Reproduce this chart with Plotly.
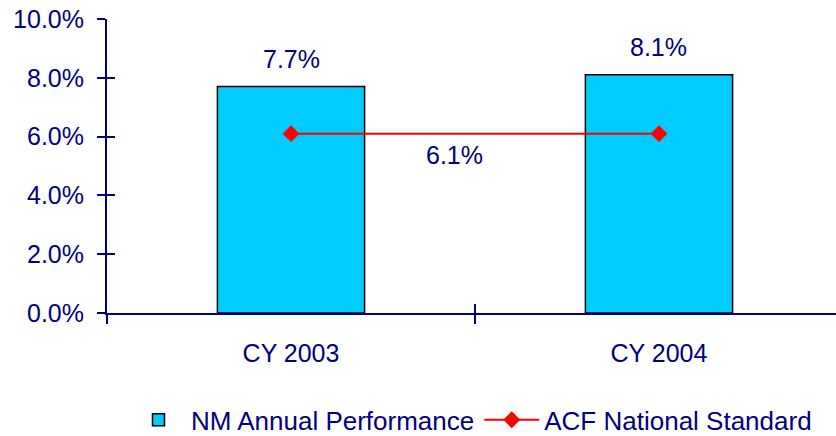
import plotly.graph_objects as go

categories = ["CY 2003", "CY 2004"]
nm_performance = [7.7, 8.1]
acf_standard = [6.1, 6.1]
y_tick_values = [0, 2, 4, 6, 8, 10]
y_tick_labels = ["0.0%", "2.0%", "4.0%", "6.0%", "8.0%", "10.0%"]

NAVY = "#000080"
FONT = "Liberation Sans, Arial, sans-serif"
FS = 25

fig = go.Figure()
fig.add_trace(go.Bar(
    x=categories, y=nm_performance, name="NM Annual Performance",
    width=0.4, marker=dict(color="#00CCFF", line=dict(color="black", width=1.5)),
    hoverinfo="skip",
))
fig.add_trace(go.Scatter(
    x=categories, y=acf_standard, name="ACF National Standard",
    mode="lines+markers", line=dict(color="#FF0000", width=2),
    marker=dict(symbol="diamond", size=13, color="#FF0000"),
    hoverinfo="skip",
))
# invisible helper trace for the overlay axes (inside half of crossing ticks)
fig.add_trace(go.Scatter(
    x=categories, y=nm_performance, xaxis="x2", yaxis="y2",
    mode="markers", marker=dict(opacity=0), showlegend=False, hoverinfo="skip",
))

for c, v in zip(categories, nm_performance):
    fig.add_annotation(x=c, y=v, text=f"{v:.1f}%", showarrow=False,
                       yanchor="bottom", yshift=12,
                       font=dict(family=FONT, size=FS, color=NAVY))
fig.add_annotation(x=0.5, y=acf_standard[0], text=f"{acf_standard[0]:.1f}%",
                   showarrow=False, yanchor="top", yshift=-5, xshift=-21,
                   font=dict(family=FONT, size=FS, color=NAVY))

xr = [-0.5, 1.481]
axis_common = dict(linecolor=NAVY, linewidth=2, tickcolor=NAVY, tickwidth=2)
fig.update_layout(
    width=836, height=436,
    margin=dict(l=107, r=0, t=19, b=123),
    paper_bgcolor="white", plot_bgcolor="white",
    font=dict(family=FONT, size=FS, color=NAVY),
    bargap=0.6,
    xaxis=dict(type="category", range=xr, showline=True, showgrid=False,
               tickson="boundaries", ticks="outside", ticklen=9,
               ticklabelstandoff=17, zeroline=False, **axis_common),
    yaxis=dict(range=[0, 10], tickvals=y_tick_values, ticktext=y_tick_labels,
               showline=True, showgrid=False, ticks="outside", ticklen=8,
               ticklabelstandoff=8, zeroline=False, **axis_common),
    xaxis2=dict(type="category", range=xr, overlaying="x", showline=False,
                showgrid=False, tickson="boundaries", ticks="inside", ticklen=9,
                showticklabels=False, zeroline=False,
                tickcolor=NAVY, tickwidth=2),
    yaxis2=dict(range=[0, 10], tickvals=y_tick_values, overlaying="y",
                showline=False, showgrid=False, ticks="inside", ticklen=8,
                showticklabels=False, zeroline=False,
                tickcolor=NAVY, tickwidth=2),
    legend=dict(orientation="h", x=0.5, xanchor="center", yref="container",
                y=0.037, yanchor="middle", font=dict(family=FONT, size=26, color=NAVY),
                bgcolor="rgba(0,0,0,0)", itemwidth=55),
    showlegend=True,
)

fig.write_html("out.html", config={"displayModeBar": False},
               post_script="document.body.style.margin='0px';")
